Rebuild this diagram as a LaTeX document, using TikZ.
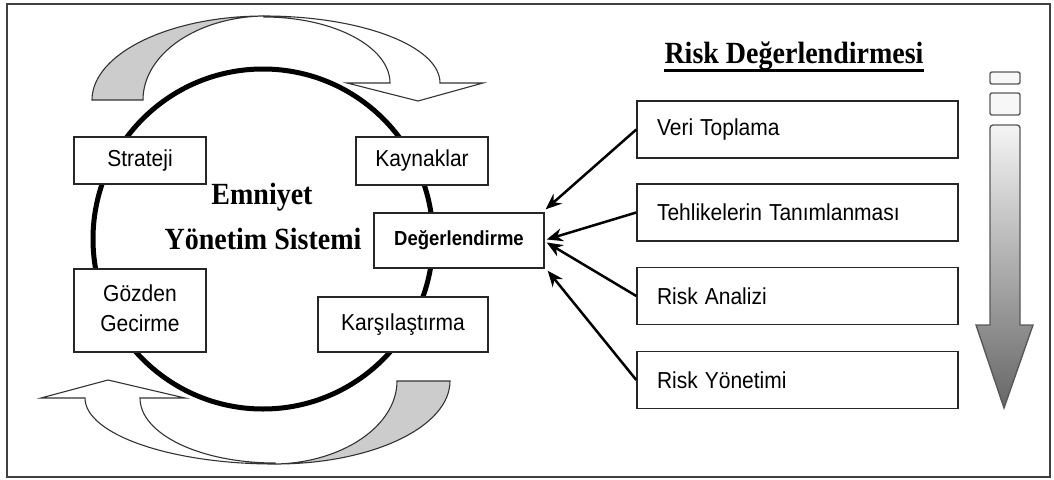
\documentclass[tikz,border=0pt]{standalone}
\usepackage{fontspec}
\usepackage{graphicx}
\setmainfont{Liberation Sans}
\newfontfamily\titlefont{Liberation Serif}
\usetikzlibrary{arrows.meta,calc}
\newcommand{\vstr}[1]{\scalebox{1}[1.1]{#1}}
\begin{document}
\begin{tikzpicture}[x=1pt,y=-1pt,
  cbox/.style={draw=black!85, line width=1.4pt, fill=white, align=center, inner sep=0pt,
    font=\fontsize{21}{27}\selectfont},
  rbox/.style={draw=black!85, line width=1.4pt, fill=white, minimum width=321pt, minimum height=57pt,
    text width=281pt, inner xsep=20pt, inner ysep=0pt, align=left, font=\fontsize{21}{25}\selectfont},
  conn/.style={-{Stealth[length=16pt,width=13pt]}, line width=2.5pt},
  bandline/.style={draw=black!80, line width=1.1pt},
  title/.style={font=\titlefont\bfseries\fontsize{28}{30}\selectfont, inner sep=0pt, anchor=base}
]
\useasboundingbox (0,0) rectangle (1054,479);
% outer frame
\draw[black!75, line width=2pt] (7,4) rectangle (1050,477);

% top curved arrow
\path[bandline, fill=black!20] (92,100) .. controls (92,54) and (169,16) .. (264,16)
   .. controls (197,17) and (143,54) .. (143,100) -- cycle;
\path[bandline, fill=white] (264,16) .. controls (361,16) and (440,46) .. (440,83)
   -- (483,83) -- (418,101) -- (347,83) -- (390,83)
   .. controls (390,47) and (334,17) .. (264,17) -- cycle;

% bottom curved arrow
\path[bandline, fill=black!20] (450,381) .. controls (450,427) and (372,464) .. (275,464)
   .. controls (342,463) and (397,426) .. (397,381) -- cycle;
\path[bandline, fill=white] (275,464) .. controls (170,464) and (85,434) .. (85,398)
   -- (41,398) -- (108,380) -- (185,398) -- (140,398)
   .. controls (140,434) and (200,463) .. (275,463) -- cycle;

% main circle
\draw[line width=5pt] (263,239) circle[radius=170pt];

% titles
\node[title] (t1) at (262,204) {\vstr{Emniyet}};
\node[title] (t2) at (263,249) {\vstr{Yönetim Sistemi}};
\node[title] (rt) at (794,63) {\vstr{Risk Değerlendirmesi}};
\draw[line width=3pt] ([yshift=-7pt]rt.base west) -- ([yshift=-7pt]rt.base east);

% cycle boxes
\node[cbox, minimum width=132pt, minimum height=47pt] (str) at (140,160.5) {\vstr{Strateji}};
\node[cbox, minimum width=132pt, minimum height=48pt] (kay) at (422,161) {\vstr{Kaynaklar}};
\node[cbox, minimum width=170pt, minimum height=55pt, font=\bfseries\fontsize{18.5}{22}\selectfont] (deg) at (459,240.5) {\vstr{Değerlendirme}};
\node[cbox, minimum width=132pt, minimum height=83pt] (goz) at (140,310.5) {\vstr{\begin{tabular}{@{}c@{}}Gözden\\Gecirme\end{tabular}}};
\node[cbox, minimum width=170pt, minimum height=55pt] (kar) at (403,324.5) {\vstr{Karşılaştırma}};

% right boxes
\node[rbox] (veri) at (797.5,129.5) {\vstr{Veri Toplama}};
\node[rbox] (teh) at (797.5,212.5) {\vstr{Tehlikelerin Tanımlanması}};
\node[rbox] (ana) at (797.5,296) {\vstr{Risk Analizi}};
\node[rbox] (yon) at (797.5,380) {\vstr{Risk Yönetimi}};

% connectors
\draw[conn] (veri.west) -- ($(deg.north east)+(1,-3)$);
\draw[conn] (teh.west) -- ($(deg.east)+(2,-1)$);
\draw[conn] (ana.west) -- ($(deg.east)+(2,2)$);
\draw[conn] (yon.west) -- ($(deg.south east)+(3,2)$);

% vertical arrow
\draw[black!65, line width=1.4pt, rounded corners=2pt, fill=white!97!black] (990,72) rectangle (1020,84);
\draw[black!65, line width=1.4pt, rounded corners=2pt, fill=white!97!black] (990,93) rectangle (1020,115);
\path[draw=black!65, line width=1.4pt, top color=white!96!black, bottom color=black!60]
  (990,200) [rounded corners=3pt] -- (990,125) -- (1020,125) -- (1020,200) [sharp corners]
  -- (1020,325) -- (1033,325) -- (1004,408) -- (976,325) -- (990,325) -- cycle;
\end{tikzpicture}
\end{document}
